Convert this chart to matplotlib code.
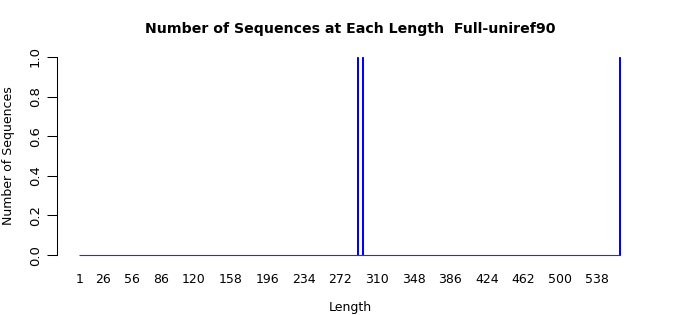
import numpy as np
import matplotlib
matplotlib.use('Agg')
import matplotlib.pyplot as plt

# Lengths observed (1 .. max length) and the lengths with sequences
MAX_LENGTH = 562
seq_lengths = [290, 295, 562]
seq_counts = [1, 1, 1]

# Labels R left visible under the bars
tick_labels = [1, 26, 56, 86, 120, 158, 196, 234, 272, 310, 348, 386,
               424, 462, 500, 538]
y_ticks = [0.0, 0.2, 0.4, 0.6, 0.8, 1.0]

TITLE = 'Number of Sequences at Each Length  Full-uniref90'
BAR_BLUE = '#0000FF'

lengths = np.arange(1, MAX_LENGTH + 1)
counts = np.zeros(len(lengths))
for L, c in zip(seq_lengths, seq_counts):
    counts[L - 1] = c

fig = plt.figure(figsize=(7.0, 3.15), dpi=100)
fig.patch.set_facecolor('white')
ax = fig.add_axes([57 / 700, (315 - 263) / 315, (642 - 57) / 700, (263 - 49) / 315])

edge = [BAR_BLUE if c > 0 else 'none' for c in counts]
ax.bar(lengths, counts, width=1.0, facecolor='none', edgecolor=edge,
       linewidth=0.75)
# zero-height bars collapse to a blue baseline in R's barplot
ax.hlines(0, lengths[0] - 0.5, lengths[-1] + 0.5, color='#2A2AE0',
          linewidth=0.8)

pad_x = 0.04 * len(lengths)
ax.set_xlim(0.5 - pad_x, len(lengths) + 0.5 + pad_x)
ax.set_ylim(-0.04, 1.04)

for s in ['top', 'right', 'bottom']:
    ax.spines[s].set_visible(False)
ax.spines['left'].set_bounds(0, 1)
ax.spines['left'].set_linewidth(0.75)

ax.set_yticks(y_ticks)
ax.set_yticklabels([f'{v:.1f}' for v in y_ticks], rotation=90, va='center',
                   fontsize=9.5)
ax.tick_params(axis='y', length=7, width=0.75, pad=4)

ax.set_xticks(tick_labels)
ax.set_xticklabels([str(t) for t in tick_labels], fontsize=9)
ax.tick_params(axis='x', length=0, pad=7)

fig.text(9 / 700, 1 - 156 / 315, 'Number of Sequences', rotation=90,
         ha='center', va='center', fontsize=9)
fig.text(350 / 700, 1 - 307 / 315, 'Length', ha='center', va='center',
         fontsize=9)
fig.text(350 / 700, 1 - 29 / 315, TITLE, ha='center', va='center',
         fontsize=10.2, fontweight='bold')

fig.savefig('out.png', dpi=100, facecolor='white')
